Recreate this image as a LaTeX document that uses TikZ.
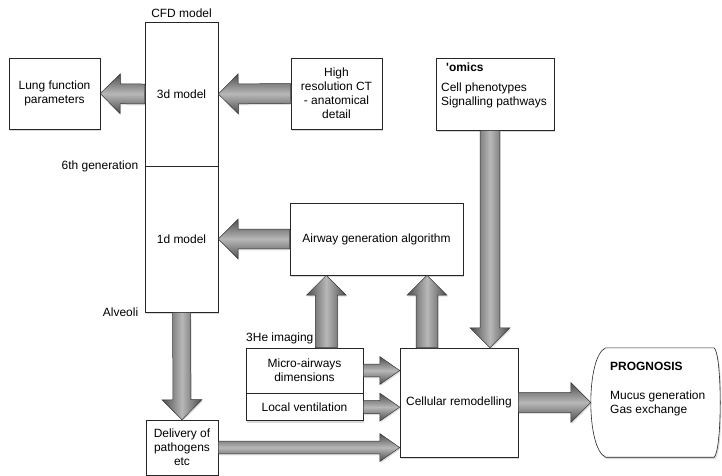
\documentclass[tikz,border=0pt]{standalone}
\usepackage{fontspec}
\setmainfont{Liberation Sans}
\usetikzlibrary{positioning, calc, shadows}

% 粗箭头: #1 样式, #2 起点, #3 终点
\newcommand{\fatarrow}[3][]{%
  \coordinate (hb) at ($(#3)!\fatlen pt!(#2)$);
  \draw[#1]
    ($(#2)!\fatshaft pt!90:(#3)$) -- ($(hb)!\fatshaft pt!90:(#3)$)
    -- ($(hb)!\fathead pt!90:(#3)$) -- (#3)
    -- ($(hb)!\fathead pt!-90:(#3)$) -- ($(hb)!\fatshaft pt!-90:(#3)$)
    -- ($(#2)!\fatshaft pt!-90:(#3)$) -- cycle;
}

\begin{document}
\begin{tikzpicture}[x=1bp, y=-1bp, font=\fontsize{12}{14}\selectfont]
  % 定义样式
  \tikzset{
    box/.style = {
      draw=black!85, fill=white, line width=0.6pt,
      drop shadow={shadow xshift=1.2pt, shadow yshift=-2pt, opacity=0.3},
      inner sep=2pt, align=center
    },
    fat shaft/.store in=\fatshaft, fat shaft=10,
    fat head/.store in=\fathead, fat head=20,
    fat len/.store in=\fatlen, fat len=20,
    fat arrow/.style = {
      draw=black!80, line width=0.5pt,
      drop shadow={shadow xshift=1pt, shadow yshift=-1.5pt, opacity=0.25}
    },
    hfat/.style = {fat arrow, top color=black!70, bottom color=black!70, middle color=black!28},
    vfat/.style = {fat arrow, left color=black!70, right color=black!70, middle color=black!28},
    small/.style = {fat shaft=6.5, fat head=14, fat len=18}
  }
  \useasboundingbox (0,0) rectangle (722,476);

  % CFD 模型
  \node[box, minimum width=73bp, minimum height=144bp] (m3d) at (181.5,94) {3d model};
  \node[box, minimum width=73bp, minimum height=146bp] (m1d) at (181.5,239) {1d model};
  \node[above=1bp of m3d] (cfd) {CFD model};
  \node[left=3bp of m3d.south west] (gen6) {6th generation};
  \node[left=3bp of m1d.south west] (alv) {Alveoli};

  % 上方的方框
  \node[box, minimum width=91bp, minimum height=71bp] (lung) at (54.5,93.5) {Lung function\\parameters};
  \node[box, minimum width=91bp, minimum height=71bp] (ct) at (336.5,93.5) {High\\resolution CT\\- anatomical\\detail};
  \node[box, minimum width=118bp, minimum height=72bp] (omics) at (495,94) {};
  \node[anchor=north west, inner sep=0pt] (omicstitle) at (446,62.5) {\textbf{\textquotesingle omics}};
  \node[anchor=north west, inner sep=0pt, align=left] (omicslist) at (441,82.5) {Cell phenotypes\\Signalling pathways};

  % 中间与下方的方框
  \node[box, minimum width=173bp, minimum height=72bp] (airway) at (376.5,239) {Airway generation algorithm};
  \node[box, minimum width=117bp, minimum height=45bp] (micro) at (304.5,370.5) {Micro-airways\\dimensions};
  \node[box, minimum width=117bp, minimum height=27bp, below=0pt of micro] (local) {Local ventilation};
  \node[above right=0bp and -3bp of micro.north west] (he3) {3He imaging};
  \node[box, minimum width=118bp, minimum height=109bp] (cell) at (459,402.5) {Cellular remodelling};
  \node[box, minimum width=72bp, minimum height=55bp] (deliv) at (182,447.5) {Delivery of\\pathogens\\etc};

  % 预后
  \node[minimum width=129bp, minimum height=109bp] (prog) at (655.5,402.5) {};
  \draw[box] ([xshift=15bp]prog.north west) -- ([xshift=-6bp]prog.north east)
    .. controls +(8,8) and +(8,-8) .. ([xshift=-6bp]prog.south east)
    -- ([xshift=15bp]prog.south west)
    .. controls +(-20,-8) and +(-20,8) .. ([xshift=15bp]prog.north west) -- cycle;
  \node[anchor=north west, inner sep=0pt] (progtitle) at (610,361.5) {\textbf{PROGNOSIS}};
  \node[anchor=north west, inner sep=0pt, align=left] (proglist) at (610,390.5) {Mucus generation\\Gas exchange};

  % 横向箭头
  \fatarrow[hfat]{m3d.west}{lung.east}
  \fatarrow[hfat]{ct.west}{m3d.east}
  \fatarrow[hfat]{airway.west}{m1d.east}
  \fatarrow[hfat]{cell.east}{prog.west}
  \fatarrow[hfat, small]{micro.east}{micro.east -| cell.west}
  \fatarrow[hfat, small]{local.east}{local.east -| cell.west}
  \fatarrow[hfat, small]{deliv.east}{deliv.east -| cell.west}

  % 纵向箭头
  \coordinate (omicsout) at ([xshift=-5bp]omics.south);
  \coordinate (microup) at ([xshift=-37bp]micro.north east);
  \coordinate (cellup) at ([xshift=-32bp]cell.north);
  \fatarrow[vfat, fat shaft=9]{m1d.south}{deliv.north}
  \fatarrow[vfat]{omicsout}{omicsout |- cell.north}
  \fatarrow[vfat, fat shaft=11]{microup}{microup |- airway.south}
  \fatarrow[vfat, fat shaft=11]{cellup}{cellup |- airway.south}
\end{tikzpicture}
\end{document}
